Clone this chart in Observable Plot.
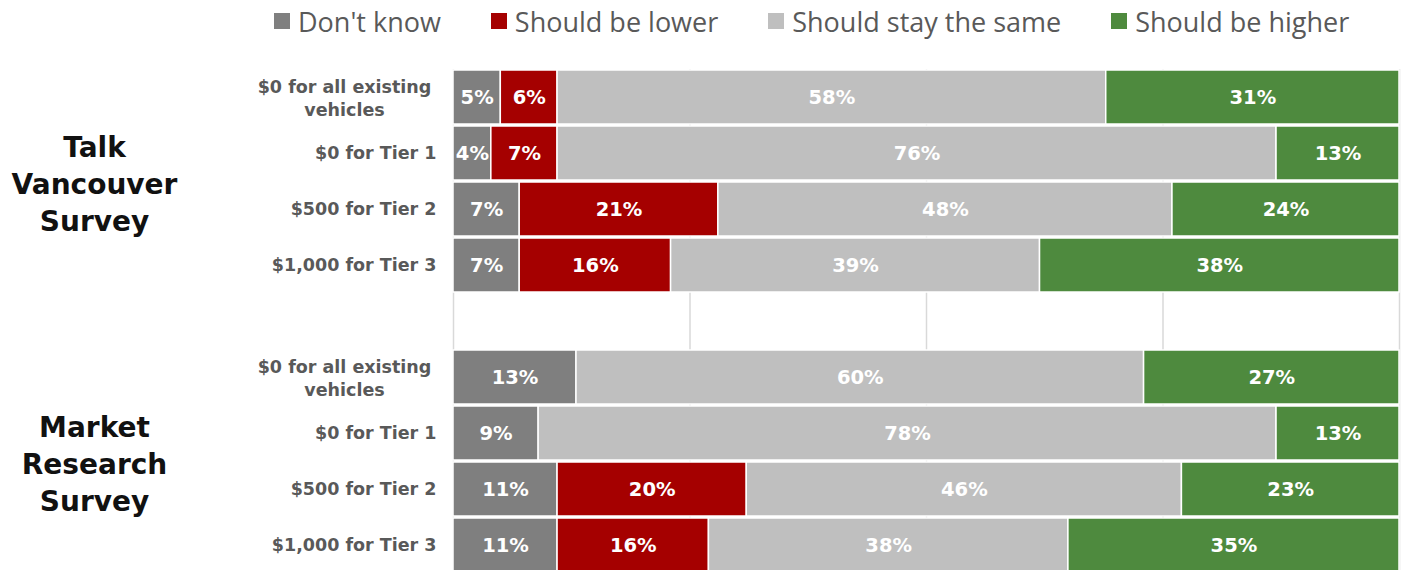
<!DOCTYPE html>
<html><head><meta charset="utf-8">
<script src="https://cdn.jsdelivr.net/npm/d3@7"></script>
<script src="https://cdn.jsdelivr.net/npm/@observablehq/plot@0.6"></script>
<style>
html,body{margin:0;padding:0;background:#fff;overflow:hidden;width:1404px;height:570px}
#legend{height:42px;display:flex;align-items:center;padding-left:274px;font-family:"Open Sans";font-size:27px;color:#595959;box-sizing:border-box}
.item{display:flex;align-items:center;margin-right:50px;white-space:nowrap}
.sw{width:16px;height:16px;margin-right:8px}
#chart svg{display:block}
</style></head><body>
<div id="legend"></div><div id="chart"></div>
<script>
const groups = ["Talk\nVancouver\nSurvey", "Market\nResearch\nSurvey"];
const options = ["$0 for all existing\nvehicles", "$0 for Tier 1", "$500 for Tier 2", "$1,000 for Tier 3"];
const responses = ["Don't know", "Should be lower", "Should stay the same", "Should be higher"];
const colors = ["#7f7f7f", "#a50000", "#bfbfbf", "#4e8a3e"];

// Talk Vancouver Survey (per option)
const talkDontKnow = [5, 4, 7, 7];
const talkLower    = [6, 7, 21, 16];
const talkSame     = [58, 76, 48, 39];
const talkHigher   = [31, 13, 24, 38];
// Market Research Survey (per option)
const marketDontKnow = [13, 9, 11, 11];
const marketLower    = [0, 0, 20, 16];
const marketSame     = [60, 78, 46, 38];
const marketHigher   = [27, 13, 23, 35];

const seriesByGroup = [
  [talkDontKnow, talkLower, talkSame, talkHigher],
  [marketDontKnow, marketLower, marketSame, marketHigher]
];

const gapKey = "gap";
const rowKeys = [];
const rows = [];
groups.forEach((g, gi) => {
  if (gi > 0) rowKeys.push(gapKey);
  options.forEach((o, oi) => {
    const key = gi + "|" + oi;
    rowKeys.push(key);
    rows.push({key, label: o, multi: o.includes("\n")});
  });
});

const data = [];
groups.forEach((g, gi) => {
  options.forEach((o, oi) => {
    responses.forEach((r, ri) => {
      const v = seriesByGroup[gi][ri][oi];
      if (v > 0) data.push({row: gi + "|" + oi, response: r, value: v});
    });
  });
});

const groupLabels = groups.map((g, gi) => ({label: g, row: gi + "|2"}));

// legend
const lg = document.getElementById("legend");
responses.forEach((r, i) => {
  const it = document.createElement("div");
  it.className = "item";
  const sw = document.createElement("div");
  sw.className = "sw";
  sw.style.background = colors[i];
  const t = document.createElement("span");
  t.textContent = r;
  it.append(sw, t);
  lg.append(it);
});

const chart = Plot.plot({
  width: 1404,
  height: 531,
  marginTop: 27,
  marginBottom: 0,
  marginLeft: 453,
  marginRight: 5,
  style: {fontFamily: "DejaVu Sans", background: "#fff"},
  x: {domain: [0, 100], axis: null},
  y: {domain: rowKeys, axis: null, padding: 0},
  color: {domain: responses, range: colors},
  marks: [
    Plot.ruleX([0, 25, 50, 75, 100], {stroke: "#d9d9d9", strokeWidth: 1.5}),
    Plot.barX(data, Plot.stackX({
      x: "value", y: "row", z: "response", fill: "response",
      order: responses, stroke: "white", strokeWidth: 1.5,
      insetTop: 1, insetBottom: 1
    })),
    Plot.text(data, Plot.stackX({
      x: "value", y: "row", z: "response", order: responses,
      text: d => d.value + "%", fill: "white", fontWeight: "bold", fontSize: 19.5
    })),
    Plot.text(rows.filter(d => !d.multi), {
      y: "key", text: "label", frameAnchor: "left", dx: -17, textAnchor: "end",
      fill: "#595959", fontWeight: "bold", fontSize: 17.5, letterSpacing: "0.5px"
    }),
    Plot.text(rows.filter(d => d.multi), {
      y: "key", text: "label", frameAnchor: "left", dx: -109, textAnchor: "middle",
      lineHeight: 1.32, fill: "#595959", fontWeight: "bold", fontSize: 17.5, letterSpacing: "0.5px"
    }),
    Plot.text(groupLabels, {
      y: "row", text: "label", frameAnchor: "left", dx: -359, dy: -27, textAnchor: "middle",
      lineHeight: 1.32, fill: "#111", fontWeight: "bold", fontSize: 28
    })
  ]
});
document.getElementById("chart").append(chart);
</script>
</body></html>
